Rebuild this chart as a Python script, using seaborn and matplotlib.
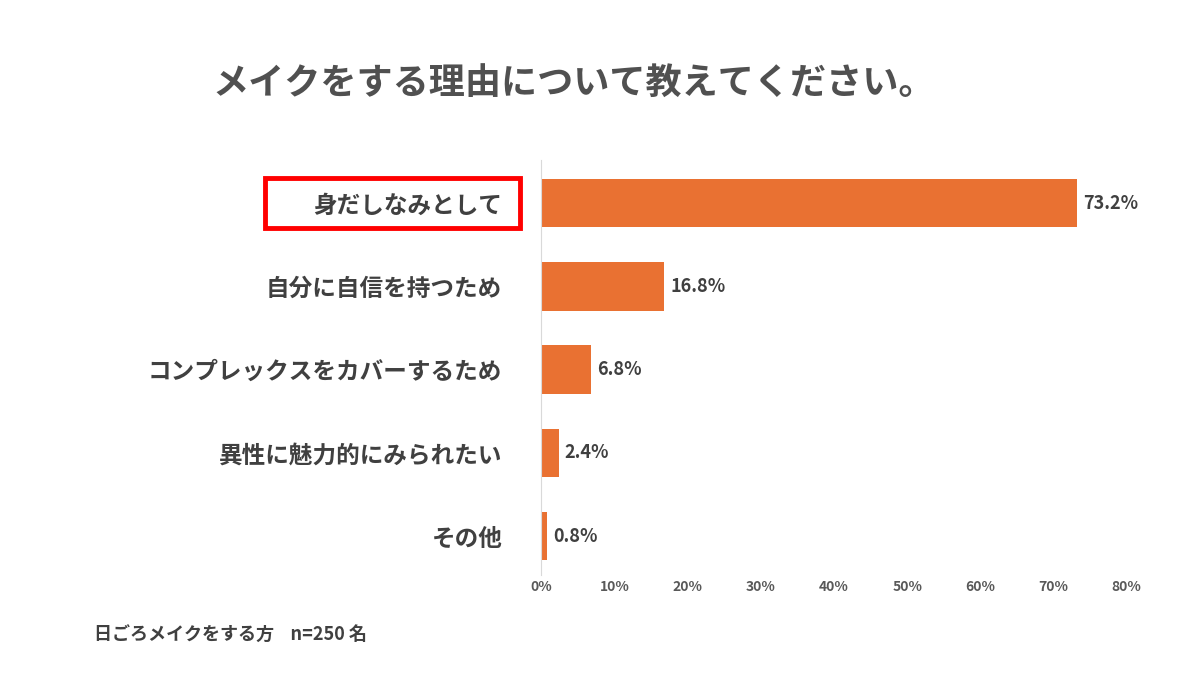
import matplotlib
matplotlib.use("Agg")
import matplotlib.pyplot as plt
import seaborn as sns
import pandas as pd

plt.rcParams["font.family"] = "Noto Sans CJK JP"

categories = ["身だしなみとして", "自分に自信を持つため", "コンプレックスをカバーするため",
              "異性に魅力的にみられたい", "その他"]
values = [73.2, 16.8, 6.8, 2.4, 0.8]
xticks = [0, 10, 20, 30, 40, 50, 60, 70, 80]

df = pd.DataFrame({"cat": categories, "val": values})
grey = "#404040"

fig = plt.figure(figsize=(12, 6.75), dpi=100)
ax = fig.add_axes([0.451, 0.148, 0.488, 0.615])
sns.barplot(data=df, x="val", y="cat", color="#E97132", saturation=1, width=0.58, ax=ax)

ax.set_xlim(0, 80)
ax.set_ylim(4.47, -0.52)
ax.set_xticks(xticks)
ax.set_xticklabels([f"{t}%" for t in xticks], fontsize=10, color="#595959", fontweight="bold")
ax.set_xlabel("")
ax.set_ylabel("")
ax.tick_params(axis="both", length=0)
ax.tick_params(axis="y", pad=28)
for lab in ax.get_yticklabels():
    lab.set_fontsize(17)
    lab.set_fontweight("bold")
    lab.set_color(grey)
for s in ["top", "right", "bottom"]:
    ax.spines[s].set_visible(False)
ax.spines["left"].set_color("#D9D9D9")

for i, v in enumerate(values):
    ax.text(v + 0.8, i, f"{v}%", va="center", ha="left", fontsize=13,
            fontweight="bold", color=grey)

# red box around first label
fig.patches.append(plt.Rectangle((265 / 1200, 1 - 228 / 675), 255 / 1200, 50 / 675,
                                 transform=fig.transFigure, fill=False,
                                 edgecolor="red", linewidth=3.5))

fig.text(0.478, 0.875, "メイクをする理由について教えてください。", ha="center", va="center",
         fontsize=26, fontweight="bold", color="#505050")
fig.text(0.078, 0.059, "日ごろメイクをする方    n=250 名", ha="left", va="center",
         fontsize=13, fontweight="bold", color=grey)

fig.savefig("out.png", dpi=100, facecolor="white")
